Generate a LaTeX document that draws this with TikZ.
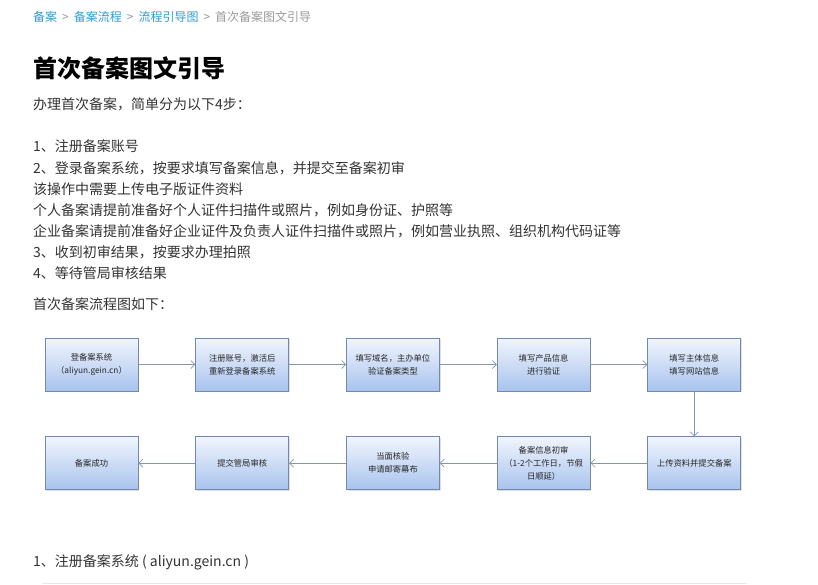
\documentclass[tikz,border=0pt]{standalone}
\usepackage{fontspec}
\setmainfont{Noto Sans CJK SC}
\usepackage{tikz}
\usetikzlibrary{positioning,arrows.meta,shadows}
\tikzset{>={Straight Barb[length=4pt,width=8pt]}}

\definecolor{crumb}{HTML}{2E9AD0}
\definecolor{crumbgray}{HTML}{9A9A9A}
\definecolor{bodytext}{HTML}{333333}
\definecolor{boxtop}{HTML}{F1F5FD}
\definecolor{boxbot}{HTML}{A8C3EE}
\definecolor{boxline}{HTML}{7389AB}
\definecolor{flowline}{HTML}{8797AA}
\definecolor{rulegray}{HTML}{E8E8E8}

\newcommand{\crumbsep}{\hspace{5pt}{\color{crumbgray}>}\hspace{5pt}}

\tikzset{
  stepbox/.style={draw=boxline,line width=0.7pt,top color=boxtop,bottom color=boxbot,
    minimum width=93pt,minimum height=53pt,align=center,inner sep=2pt,
    font=\fontsize{8.3}{13}\selectfont,text=black!85,
    drop shadow={shadow xshift=1.2pt,shadow yshift=-1.2pt,fill=black!30,opacity=0.4}},
  flow/.style={->,draw=flowline,line width=0.7pt},
  textline/.style={anchor=west,inner sep=0pt,text=bodytext,font=\fontsize{14}{16}\selectfont}
}

\begin{document}
\begin{tikzpicture}[x=1pt,y=-1pt,node distance=57pt]
% Page of 818 by 584, y runs downwards
\useasboundingbox (0,0) rectangle (818,584);

% Breadcrumb and title
\node[textline,font=\fontsize{12}{14}\selectfont,text=crumb] (crumbs) at (33,17)
  {备案\crumbsep 备案流程\crumbsep 流程引导图\crumbsep{\color{crumbgray}首次备案图文引导}};
\node[textline,text=black,font=\fontsize{24}{28}\selectfont\bfseries] (title) at (33,68) {首次备案图文引导};

% Introduction
\node[textline] (intro) at (33,104) {办理首次备案，简单分为以下4步：};
\node[textline] (stepa) at (33,146) {1、注册备案账号};
\node[textline] (stepb) at (33,168) {2、登录备案系统，按要求填写备案信息，并提交至备案初审};
\node[textline] (notea) at (33,189) {该操作中需要上传电子版证件资料};
\node[textline] (noteb) at (33,210) {个人备案请提前准备好个人证件扫描件或照片，例如身份证、护照等};
\node[textline] (notec) at (33,231) {企业备案请提前准备好企业证件及负责人证件扫描件或照片，例如营业执照、组织机构代码证等};
\node[textline] (stepc) at (33,252) {3、收到初审结果，按要求办理拍照};
\node[textline] (stepd) at (33,273) {4、等待管局审核结果};
\node[textline] (flowcap) at (33,304) {首次备案流程图如下：};

% First row of the flow chart
\node[stepbox] (login) at (91.5,364.5) {登备案系统\\（aliyun.gein.cn）};
\node[stepbox,right=of login] (register) {注册账号，激活后\\重新登录备案系统};
\node[stepbox,right=of register] (domain) {填写域名，主办单位\\验证备案类型};
\node[stepbox,right=of domain] (product) {填写产品信息\\进行验证};
\node[stepbox,right=of product] (site) {填写主体信息\\填写网站信息};

% Second row, right to left
\node[stepbox,below=45pt of site] (upload) {上传资料并提交备案};
\node[stepbox,left=of upload] (review) {备案信息初审\\（1-2个工作日，节假\\日顺延）};
\node[stepbox,left=of review] (verify) {当面核验\\申请邮寄幕布};
\node[stepbox,left=of verify] (bureau) {提交管局审核};
\node[stepbox,left=of bureau] (done) {备案成功};

% Connectors
\draw[flow] (login) -- (register);
\draw[flow] (register) -- (domain);
\draw[flow] (domain) -- (product);
\draw[flow] (product) -- (site);
\draw[flow] (site) -- (upload);
\draw[flow] (upload) -- (review);
\draw[flow] (review) -- (verify);
\draw[flow] (verify) -- (bureau);
\draw[flow] (bureau) -- (done);

% Next section
\node[textline] (nexthead) at (33,562) {1、注册备案系统 ( aliyun.gein.cn )};
\coordinate (ruleL) at (42,583);
\coordinate (ruleR) at (747,583);
\draw[rulegray,line width=1pt] (ruleL) -- (ruleR);
\end{tikzpicture}
\end{document}
